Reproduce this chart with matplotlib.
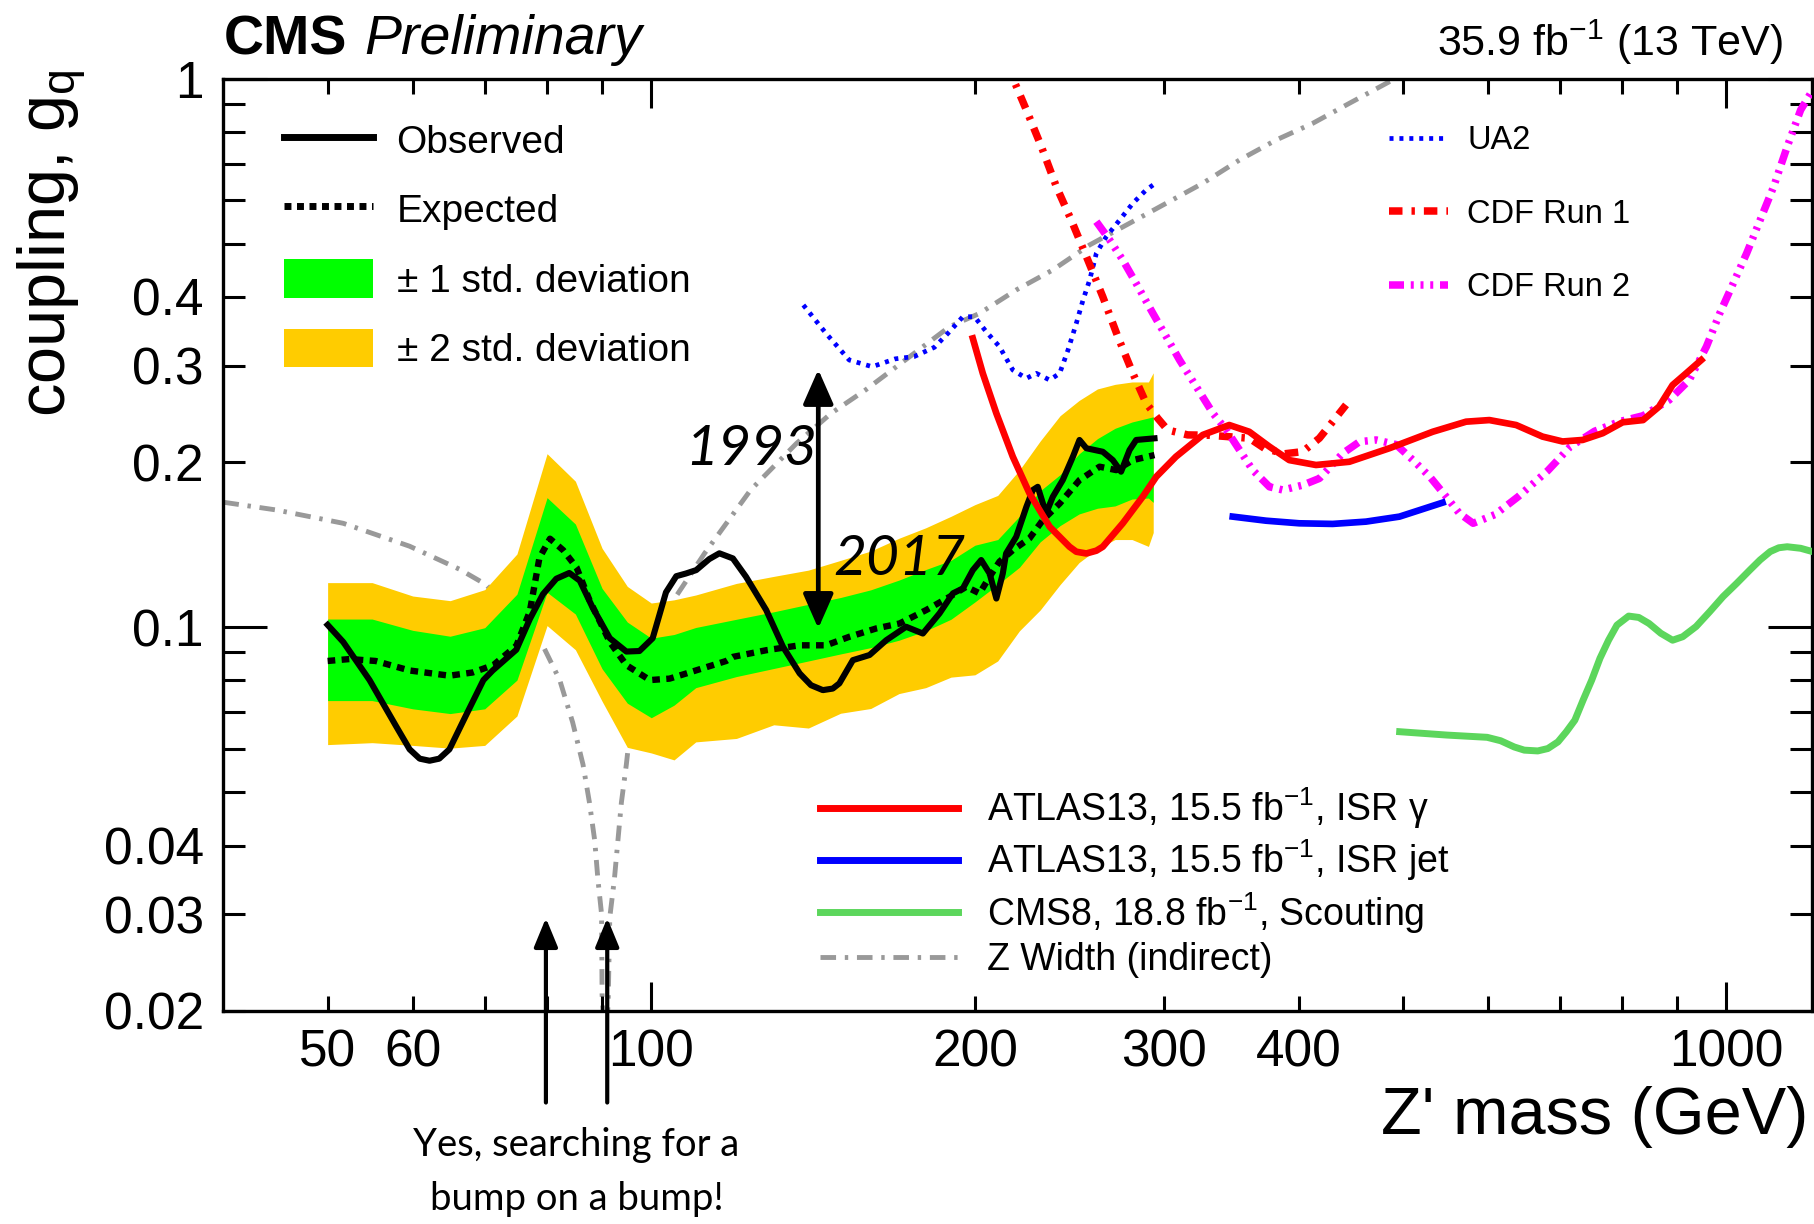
import numpy as np
import matplotlib
matplotlib.use('Agg')
import matplotlib.pyplot as plt
from matplotlib.lines import Line2D
from matplotlib.patches import Patch
from matplotlib.ticker import FixedLocator, FixedFormatter

plt.rcParams['font.family'] = ['Liberation Sans', 'DejaVu Sans']
plt.rcParams['mathtext.fontset'] = 'custom'
plt.rcParams['mathtext.rm'] = 'Liberation Sans'
plt.rcParams['mathtext.it'] = 'Liberation Sans:italic'
plt.rcParams['mathtext.bf'] = 'Liberation Sans:bold'
plt.rcParams['mathtext.default'] = 'regular'

# ---------------- data ----------------
band_mass = [50, 55, 60, 65, 70, 75, 80, 85, 90, 95, 100, 105, 110, 120, 130, 140, 150,
             160, 170, 180, 190, 200, 210, 220, 230, 240, 250, 260, 270, 280, 290, 293]
band2_hi = [0.1206, 0.1206, 0.1140, 0.1118, 0.1171, 0.1360, 0.2072, 0.1846, 0.1393, 0.1187,
            0.1107, 0.1122, 0.1145, 0.1202, 0.1238, 0.1271, 0.1324, 0.1377, 0.1453, 0.1518,
            0.1593, 0.1673, 0.1739, 0.1934, 0.2185, 0.2430, 0.2591, 0.2719, 0.2772, 0.2800,
            0.2800, 0.2910]
band1_hi = [0.1035, 0.1035, 0.0987, 0.0963, 0.0998, 0.1149, 0.1723, 0.1542, 0.1177, 0.1022,
            0.0955, 0.0970, 0.0999, 0.1034, 0.1067, 0.1101, 0.1133, 0.1170, 0.1219, 0.1274,
            0.1324, 0.1411, 0.1445, 0.1593, 0.1773, 0.1897, 0.2071, 0.2207, 0.2305, 0.2367,
            0.2407, 0.2419]
band1_lo = [0.0735, 0.0735, 0.0710, 0.0696, 0.0710, 0.0801, 0.1158, 0.1057, 0.0840, 0.0727,
            0.0684, 0.0721, 0.0776, 0.0813, 0.0841, 0.0868, 0.0894, 0.0918, 0.0947, 0.0985,
            0.1034, 0.1112, 0.1196, 0.1286, 0.1431, 0.1532, 0.1609, 0.1648, 0.1664, 0.1713,
            0.1720, 0.1689]
band2_lo = [0.0611, 0.0616, 0.0609, 0.0602, 0.0609, 0.0689, 0.1007, 0.0910, 0.0733, 0.0604,
            0.0590, 0.0573, 0.0618, 0.0627, 0.0664, 0.0655, 0.0697, 0.0711, 0.0757, 0.0776,
            0.0811, 0.0819, 0.0868, 0.0985, 0.1075, 0.1196, 0.1312, 0.1390, 0.1445, 0.1445,
            0.1404, 0.1488]

exp_mass = [50, 52.4, 55.4, 59.6, 64.9, 68.2, 71.3, 74.9, 77.1, 78.7, 80.5, 82.8, 85.2, 87.6,
            91.5, 94.8, 99.7, 104, 108.5, 117.4, 119.1, 127.9, 137.4, 145.4, 152.9, 161.9,
            170.2, 180.2, 189.4, 196.3, 202.0, 206.4, 210.8, 216.9, 224.8, 231.3, 239.8,
            250.2, 261.2, 270.7, 280.5, 293.8]
exp_g = [0.0868, 0.0875, 0.0868, 0.0834, 0.0816, 0.0827, 0.0853, 0.0925, 0.1069, 0.1338,
         0.1450, 0.1382, 0.1286, 0.1121, 0.0940, 0.0853, 0.0801, 0.0806, 0.0827, 0.0868,
         0.0883, 0.0908, 0.0927, 0.0927, 0.0961, 0.0995, 0.1016, 0.1075, 0.1136, 0.1185,
         0.1153, 0.1236, 0.1317, 0.1382, 0.1452, 0.1568, 0.1681, 0.1855, 0.1962, 0.1934,
         0.2017, 0.2060]

obs_mass = [50.0, 51.7, 54.7, 57.9, 59.6, 60.9, 62.2, 63.5, 64.9, 67.3, 69.8, 71.2, 74.9,
            77.1, 79.3, 81.6, 83.9, 85.8, 88.2, 91.5, 94.8, 97.5, 100.3, 103.2, 105.5, 107.7,
            110.1, 113.2, 115.7, 119.1, 122.5, 127.9, 132.6, 137.4, 140.8, 144.4, 147.5,
            149.6, 154.0, 159.6, 165.4, 172.6, 178.9, 185.4, 190.8, 194.9, 199.1, 202.7,
            206.4, 209.4, 212.3, 213.8, 218.5, 223.3, 226.4, 228.8, 232.9, 236.3, 241.4,
            246.7, 250.2, 253.9, 263.0, 268.7, 273.5, 278.5, 282.5, 293.8]
obs_g = [0.1010, 0.0940, 0.0801, 0.0660, 0.0599, 0.0576, 0.0571, 0.0576, 0.0599, 0.0693,
         0.0801, 0.0834, 0.0910, 0.1035, 0.1149, 0.1226, 0.1256, 0.1216, 0.1086, 0.0955,
         0.0903, 0.0905, 0.0955, 0.1158, 0.1239, 0.1253, 0.1271, 0.1331, 0.1364, 0.1335,
         0.1236, 0.1075, 0.0921, 0.0824, 0.0784, 0.0768, 0.0773, 0.0790, 0.0871, 0.0890,
         0.0947, 0.1002, 0.0974, 0.1060, 0.1153, 0.1177, 0.1271, 0.1326, 0.1253, 0.1128,
         0.1253, 0.1363, 0.1462, 0.1658, 0.1779, 0.1803, 0.1612, 0.1729, 0.1855, 0.2046,
         0.2195, 0.2120, 0.2089, 0.2017, 0.1921, 0.2104, 0.2195, 0.2210]

ua2_mass = [138.5, 145.4, 152.8, 160.5, 168.6, 175.6, 183.4, 189.4, 194.9, 199.8, 204.9,
            210.8, 216.9, 223.3, 228.1, 234.7, 239.8, 244.1, 248.5, 252.1, 255.7, 259.4,
            265.0, 272.7, 280.5, 288.6, 295.9]
ua2_g = [0.3867, 0.3433, 0.3070, 0.2985, 0.3085, 0.3115, 0.3239, 0.3458, 0.3682, 0.3682,
         0.3458, 0.3247, 0.2944, 0.2843, 0.2903, 0.2823, 0.2903, 0.3200, 0.3581, 0.3949,
         0.4295, 0.4806, 0.5154, 0.5527, 0.5929, 0.6269, 0.6493]

cdf1_mass = [214.1, 223.3, 230.6, 238.1, 245.8, 254.7, 263.0, 271.6, 280.5, 288.6, 295.9,
             302.2, 315.4, 330.2, 359.9, 371.7, 388.0, 403.6, 418.2, 430.3, 442.8]
cdf1_g = [1.065, 0.877, 0.7518, 0.6358, 0.5527, 0.4672, 0.4005, 0.3387, 0.2903, 0.2561,
          0.2403, 0.2289, 0.2242, 0.2239, 0.2211, 0.2120, 0.2071, 0.2090, 0.2211, 0.2370,
          0.2543]

cdf2_mass = [259.4, 266.9, 274.5, 282.5, 292.8, 301.3, 310.0, 321.3, 333.0, 342.7, 352.5,
             362.6, 375.8, 386.8, 403.6, 418.3, 439.7, 455.8, 472.4, 492.9, 510.9, 529.7,
             548.7, 564.5, 581.3, 609.3, 640.2, 682.2, 715.6, 754.0, 796.1, 836.5, 884.7,
             923.6, 958.0, 985.8, 1014.6, 1044.3, 1075.0, 1106.5, 1139.0, 1172.3, 1197.7]
cdf2_g = [0.5488, 0.5082, 0.4672, 0.4234, 0.3734, 0.3387, 0.3070, 0.2746, 0.2454, 0.2289,
          0.2104, 0.1934, 0.1803, 0.1779, 0.1816, 0.1868, 0.2075, 0.2179, 0.2195, 0.2153,
          0.2018, 0.1882, 0.1730, 0.1613, 0.1547, 0.1605, 0.1730, 0.1930, 0.2133, 0.2277,
          0.2372, 0.2430, 0.2596, 0.2823, 0.3247, 0.3734, 0.4234, 0.4806, 0.5527, 0.6358,
          0.7518, 0.8770, 0.9406]

atlas_gamma_mass = [199.1, 203.4, 209.4, 216.9, 224.8, 234.7, 244.9, 248.5, 253.9, 259.4,
                    263.0, 274.5, 286.5, 294.9, 307.6, 325.8, 344.8, 359.9, 375.7, 392.1,
                    415.2, 446.0, 485.9, 533.2, 572.6, 601.9, 637.4, 674.5, 704.1, 735.0,
                    767.3, 800.8, 836.5, 865.6, 891.1, 917.3, 947.6]
atlas_gamma_g = [0.3362, 0.2903, 0.2454, 0.2046, 0.1754, 0.1525, 0.1402, 0.1373, 0.1363,
                 0.1379, 0.1402, 0.1547, 0.1730, 0.1881, 0.2046, 0.2242, 0.2337, 0.2272,
                 0.2135, 0.2017, 0.1976, 0.2003, 0.2120, 0.2272, 0.2370, 0.2386, 0.2337,
                 0.2226, 0.2181, 0.2195, 0.2258, 0.2364, 0.2386, 0.2524, 0.2764, 0.2903,
                 0.3070]

atlas_jet_mass = [347.4, 373.1, 400.6, 430.3, 462.2, 496.5, 544.5]
atlas_jet_g = [0.1591, 0.1564, 0.1547, 0.1543, 0.1558, 0.1591, 0.1687]

cms8_mass = [496.7, 549.3, 599.0, 616.6, 634.8, 648.6, 667.6, 682.2, 697.1, 709.8, 722.8,
             735.8, 749.4, 762.8, 776.9, 791.0, 811.1, 828.9, 847.2, 868.9, 891.1, 910.7,
             937.1, 964.7, 992.7, 1022.1, 1051.7, 1075.0, 1098.4, 1118.7, 1139.0, 1172.3,
             1202.0]
cms8_g = [0.0645, 0.0636, 0.0630, 0.0621, 0.0605, 0.0597, 0.0595, 0.0601, 0.0618, 0.0645,
          0.0677, 0.0737, 0.0801, 0.0878, 0.0947, 0.1009, 0.1048, 0.1042, 0.1016, 0.0975,
          0.0947, 0.0961, 0.1003, 0.1067, 0.1137, 0.1202, 0.1272, 0.1327, 0.1374, 0.1396,
          0.1402, 0.1393, 0.1374]

zw_left_mass = [40.0, 44.8, 51.7, 59.6, 66.3, 70.2, 79.3, 82.2, 84.5, 86.4, 87.6, 88.6, 89.2,
                89.9, 90.0, 90.3]
zw_left_g = [0.1690, 0.1636, 0.1547, 0.1405, 0.1276, 0.1196, 0.0925, 0.0801, 0.0671, 0.0562,
             0.0479, 0.0408, 0.0347, 0.0300, 0.0214, 0.0190]
zw_right_mass = [91.0, 91.2, 91.5, 92.4, 93.1, 93.8, 94.8, 95.6, 105.4, 112.1, 123.7, 136.5,
                 147.0, 158.2, 189.4, 202.0, 218.5, 236.3, 255.7, 278.5, 301.3, 325.8, 352.5,
                 381.3, 412.4, 446.1, 486.1, 500.0]
zw_right_g = [0.0190, 0.0211, 0.0296, 0.0347, 0.0408, 0.0479, 0.0562, 0.0652, 0.1137, 0.1364,
              0.1779, 0.2164, 0.2455, 0.2707, 0.3531, 0.3734, 0.4120, 0.4481, 0.4977, 0.5450,
              0.5929, 0.6447, 0.7110, 0.7733, 0.8294, 0.9022, 0.9880, 1.0100]

x_major = [100, 1000]
x_major_labels = ['100', '1000']
x_minor = [50, 60, 70, 80, 90, 200, 300, 400, 500, 600, 700, 800, 900]
x_minor_labels = ['50', '60', '', '', '', '200', '300', '400', '', '', '', '', '']
y_major = [0.1, 1.0]
y_major_labels = ['0.1', '1']
y_minor = [0.02, 0.03, 0.04, 0.05, 0.06, 0.07, 0.08, 0.09, 0.2, 0.3, 0.4, 0.5, 0.6, 0.7, 0.8, 0.9]
y_minor_labels = ['0.02', '0.03', '0.04', '', '', '', '', '', '0.2', '0.3', '0.4', '', '', '', '', '']

# ---------------- styles ----------------
C_GREEN = '#00ff00'
C_YELLOW = '#ffcc00'
C_SCOUT = '#5cd65c'
C_GRAY = '#999999'
LS_EXP = (0, (1.2, 1.0))
LS_UA2 = (0, (0.85, 1.25))
LS_CDF1 = (0, (1.8, 1.2, 0.45, 1.2))
LS_CDF2 = (0, (2.0, 0.9, 0.4, 0.9, 0.4, 0.9, 0.4, 0.9))
LS_ZW = (0, (3.2, 1.8, 0.7, 1.8))

fig = plt.figure(figsize=(18.15, 12.24), dpi=100)
ax = fig.add_axes([0.1231, 0.1743, 0.8750, 0.7614])
ax.set_xscale('log')
ax.set_yscale('log')

# Z width (behind band)
ax.plot(zw_left_mass, zw_left_g, color=C_GRAY, lw=3.5, ls=LS_ZW, zorder=1)
ax.plot(zw_right_mass, zw_right_g, color=C_GRAY, lw=3.5, ls=LS_ZW, zorder=1)

ax.fill_between(band_mass, band2_lo, band2_hi, color=C_YELLOW, lw=0, zorder=2)
ax.fill_between(band_mass, band1_lo, band1_hi, color=C_GREEN, lw=0, zorder=3)
ax.plot(exp_mass, exp_g, color='black', lw=4.6, ls=LS_EXP, dash_capstyle='butt', zorder=4)
ax.plot(obs_mass, obs_g, color='black', lw=4.4, solid_joinstyle='round', zorder=5)

ax.plot(ua2_mass, ua2_g, color='#0000ff', lw=3.4, ls=LS_UA2, zorder=6)
ax.plot(cdf1_mass, cdf1_g, color='#ff0000', lw=5.4, ls=LS_CDF1, zorder=6)
ax.plot(cdf2_mass, cdf2_g, color='#ff00ff', lw=5.4, ls=LS_CDF2, zorder=6)
ax.plot(atlas_gamma_mass, atlas_gamma_g, color='#ff0000', lw=4.8, solid_joinstyle='round', zorder=7)
ax.plot(atlas_jet_mass, atlas_jet_g, color='#0000ff', lw=4.8, zorder=7)
ax.plot(cms8_mass, cms8_g, color=C_SCOUT, lw=5.0, solid_joinstyle='round', zorder=7)

ax.set_xlim(40, 1200)
ax.set_ylim(0.02, 1.0)

# ticks
ax.xaxis.set_major_locator(FixedLocator(x_major))
ax.xaxis.set_major_formatter(FixedFormatter(x_major_labels))
ax.xaxis.set_minor_locator(FixedLocator(x_minor))
ax.xaxis.set_minor_formatter(FixedFormatter(x_minor_labels))
ax.yaxis.set_major_locator(FixedLocator(y_major))
ax.yaxis.set_major_formatter(FixedFormatter(y_major_labels))
ax.yaxis.set_minor_locator(FixedLocator(y_minor))
ax.yaxis.set_minor_formatter(FixedFormatter(y_minor_labels))
ax.tick_params(axis='both', which='both', direction='in', top=True, right=True,
               width=2.2, labelsize=37, color='black')
ax.tick_params(axis='x', which='major', length=21, pad=13)
ax.tick_params(axis='x', which='minor', length=11, pad=13)
ax.tick_params(axis='y', which='major', length=32, pad=14)
ax.tick_params(axis='y', which='minor', length=16, pad=14)
for sp in ax.spines.values():
    sp.set_linewidth(2.4)

# labels
fig.text(0.9961, 0.0735, "Z' mass (GeV)", ha='right', va='baseline', fontsize=48)
fig.text(0.0287, 0.9436, 'coupling, g$_{q}$', ha='center', va='top', rotation=90, fontsize=48)
fig.text(0.1231, 0.9556, 'CMS', ha='left', va='baseline', fontsize=40, fontweight='bold')
fig.text(0.2009, 0.9556, 'Preliminary', ha='left', va='baseline', fontsize=40, style='italic')
fig.text(0.9822, 0.9546, '35.9 fb$^{-1}$ (13 TeV)', ha='right', va='baseline', fontsize=31)

# legends
h1 = [Line2D([], [], color='black', lw=5.0),
      Line2D([], [], color='black', lw=5.0, ls=(0, (1.0, 0.8)), dash_capstyle='butt'),
      Patch(facecolor=C_GREEN, edgecolor='none'),
      Patch(facecolor=C_YELLOW, edgecolor='none')]
l1 = ax.legend(h1, ['Observed', 'Expected', '± 1 std. deviation', '± 2 std. deviation'],
               loc='upper left', bbox_to_anchor=(0.038, 0.955), frameon=False, fontsize=28,
               handlelength=2.3, handleheight=1.13, handletextpad=0.6, labelspacing=0.75,
               borderpad=0, borderaxespad=0)
ax.add_artist(l1)

h2 = [Line2D([], [], color='#0000ff', lw=3.4, ls=LS_UA2),
      Line2D([], [], color='#ff0000', lw=5.4, ls=LS_CDF1),
      Line2D([], [], color='#ff00ff', lw=5.4, ls=LS_CDF2)]
l2 = ax.legend(h2, ['UA2', 'CDF Run 1', 'CDF Run 2'], loc='upper left',
               bbox_to_anchor=(0.734, 0.950), frameon=False, fontsize=23.5,
               handlelength=1.8, handletextpad=0.6, labelspacing=1.30,
               borderpad=0, borderaxespad=0)
ax.add_artist(l2)

h3 = [Line2D([], [], color='#ff0000', lw=5.0),
      Line2D([], [], color='#0000ff', lw=5.0),
      Line2D([], [], color=C_SCOUT, lw=5.0),
      Line2D([], [], color=C_GRAY, lw=3.5, ls=LS_ZW)]
l3 = ax.legend(h3, ['ATLAS13, 15.5 fb$^{-1}$, ISR γ', 'ATLAS13, 15.5 fb$^{-1}$, ISR jet',
                    'CMS8, 18.8 fb$^{-1}$, Scouting', 'Z Width (indirect)'],
               loc='upper left', bbox_to_anchor=(0.3754, 0.2418), frameon=False, fontsize=27,
               handlelength=3.7, handletextpad=0.77, labelspacing=0.18,
               borderpad=0, borderaxespad=0)

# annotations
ax.annotate('', xy=(143, 0.295), xytext=(143, 0.0995),
            arrowprops=dict(arrowstyle='<|-|>,head_length=0.75,head_width=0.33',
                            color='black', lw=3.4, mutation_scale=28, shrinkA=0, shrinkB=0),
            zorder=8)
ax.text(107.5, 0.1973, '1993', fontsize=41, style='italic', family=['Lato', 'DejaVu Sans'],
        ha='left', va='baseline', zorder=8)
ax.text(147.6, 0.1244, '2017', fontsize=41, style='italic', family=['Lato', 'DejaVu Sans'],
        ha='left', va='baseline', zorder=8)
for xm in (79.8, 91.0):
    ax.annotate('', xy=(xm, 0.0295), xytext=(xm, 0.0136), annotation_clip=False,
                arrowprops=dict(arrowstyle='-|>,head_length=0.8,head_width=0.33',
                                color='black', lw=3.0, mutation_scale=22, shrinkA=0, shrinkB=0),
                zorder=8)
fig.text(0.3176, 0.0555, 'Yes, searching for a', ha='center', va='baseline', fontsize=27.5,
         family=['Lato', 'DejaVu Sans'])
fig.text(0.3176, 0.0118, 'bump on a bump!', ha='center', va='baseline', fontsize=27.5,
         family=['Lato', 'DejaVu Sans'])

fig.savefig('out.png', dpi=100)
